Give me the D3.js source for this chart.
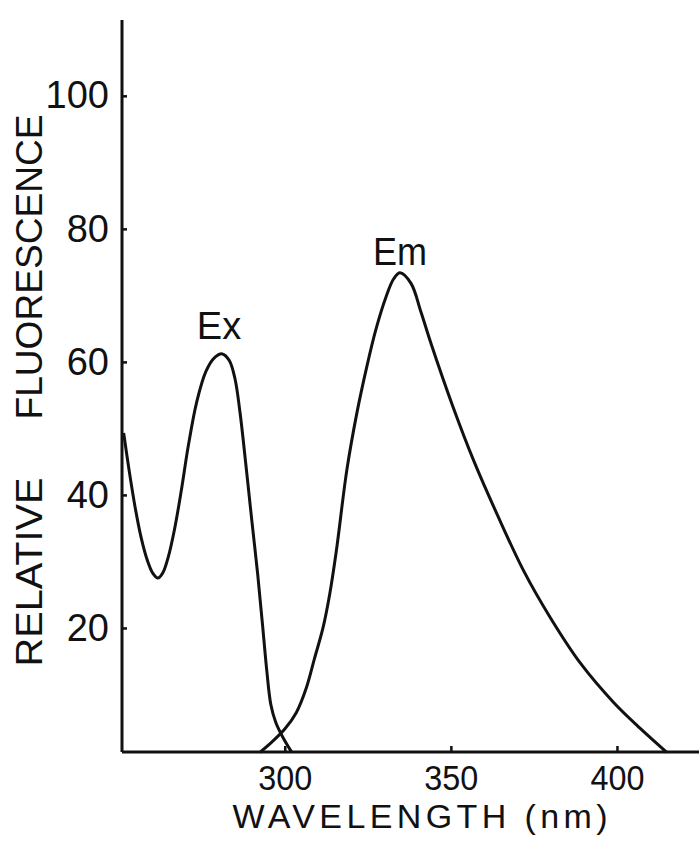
<!DOCTYPE html>
<html>
<head>
<meta charset="utf-8">
<script src="https://cdn.jsdelivr.net/npm/d3@7"></script>
<style>
    body { margin: 0; background: #fff; }
    text { font-family: "Liberation Sans", Arial, sans-serif; fill: #111; }
</style>
</head>
<body>
<div id="chart"></div>
<script>
// excitation spectrum
var exWavelength = [251.5, 253.2, 255.0, 256.8, 258.6, 260.3, 261.8, 263.3, 265.0, 266.8, 268.8, 271.0, 273.5, 276.3, 278.8, 281.2, 283.3, 285.0, 286.5, 288.3, 290.0, 291.8, 293.3, 294.6, 295.8, 297.3, 299.5, 302.0];
var exValue      = [49.3, 43.5, 38.0, 33.5, 30.2, 28.2, 27.5, 28.3, 30.8, 34.8, 40.5, 47.5, 54.0, 58.6, 60.6, 61.2, 60.2, 57.5, 52.5, 44.5, 36.5, 28.3, 20.5, 13.5, 8.5, 5.8, 3.5, 1.4];

// emission spectrum
var emWavelength = [292.5, 296.0, 300.0, 303.5, 306.5, 309.0, 311.5, 313.5, 315.5, 318.7, 321.7, 324.7, 327.5, 330.5, 332.8, 334.7, 338.0, 341.0, 344.0, 350.6, 357.0, 364.0, 372.0, 380.0, 389.0, 399.0, 407.0, 415.0];
var emValue      = [1.3, 2.8, 4.8, 7.3, 11.0, 15.5, 20.0, 25.0, 31.5, 43.8, 52.3, 59.3, 65.0, 69.8, 72.5, 73.4, 71.8, 67.5, 62.8, 53.3, 45.0, 37.0, 28.5, 21.5, 14.7, 8.8, 4.9, 1.3];

var xTicks = [300, 350, 400];
var yTicks = [20, 40, 60, 80, 100];

function draw() {
    const W = 699, H = 844;

    const svg = d3.select("#chart")
        .append("svg")
        .attr("width", W)
        .attr("height", H);

        // scales (axis corner sits a little above zero like the original)
    const x = d3.scaleLinear().domain([251, 425]).range([122, 700]);
    const y = d3.scaleLinear().domain([1.35, 111.4]).range([752, 20]);

        // axis lines
    svg.append("line")
        .attr("x1", x(251)).attr("x2", x(251))
        .attr("y1", y(1.35)).attr("y2", y(111.4))
        .attr("stroke", "#111").attr("stroke-width", 3);
    svg.append("line")
        .attr("x1", x(251)).attr("x2", x(425))
        .attr("y1", y(1.35)).attr("y2", y(1.35))
        .attr("stroke", "#111").attr("stroke-width", 3);

        // y ticks point into the plot
    const yAxis = svg.append("g")
        .attr("transform", `translate(${x(251)},0)`)
        .call(d3.axisLeft(y).tickValues(yTicks).tickSize(-5).tickPadding(13));
    yAxis.select(".domain").remove();
    yAxis.selectAll("line").attr("stroke", "#111").attr("stroke-width", 2.5);
    yAxis.selectAll("text")
        .attr("font-size", 38)
        .attr("font-family", "Liberation Sans, Arial, sans-serif")
        .attr("fill", "#111");

    const xAxis = svg.append("g")
        .attr("transform", `translate(0,${y(1.35)})`)
        .call(d3.axisBottom(x).tickValues(xTicks).tickSize(-6).tickPadding(13));
    xAxis.select(".domain").remove();
    xAxis.selectAll("line").attr("stroke", "#111").attr("stroke-width", 2.5);
    xAxis.selectAll("text")
        .attr("font-size", 35)
        .attr("font-family", "Liberation Sans, Arial, sans-serif")
        .attr("fill", "#111")
        .attr("textLength", 54)
        .attr("lengthAdjust", "spacingAndGlyphs");

        // curves
    const line = d3.line()
        .x(d => x(d[0]))
        .y(d => y(d[1]))
        .curve(d3.curveCatmullRom.alpha(0.5));

    const exData = d3.zip(exWavelength, exValue);
    const emData = d3.zip(emWavelength, emValue);

    svg.append("path")
        .datum(exData)
        .attr("d", line)
        .attr("fill", "none")
        .attr("stroke", "#111")
        .attr("stroke-width", 3);

    svg.append("path")
        .datum(emData)
        .attr("d", line)
        .attr("fill", "none")
        .attr("stroke", "#111")
        .attr("stroke-width", 3);

        // curve names
    svg.append("text")
        .attr("x", 219).attr("y", 339)
        .attr("text-anchor", "middle")
        .attr("font-size", 38)
        .text("Ex");
    svg.append("text")
        .attr("x", 400).attr("y", 265)
        .attr("text-anchor", "middle")
        .attr("font-size", 38)
        .attr("textLength", 54)
        .attr("lengthAdjust", "spacingAndGlyphs")
        .text("Em");

        // axis titles
    svg.append("text")
        .attr("x", 420).attr("y", 828)
        .attr("text-anchor", "middle")
        .attr("font-size", 34)
        .attr("textLength", 375)
        .attr("lengthAdjust", "spacing")
        .text("WAVELENGTH (nm)");

    svg.append("text")
        .attr("transform", "translate(42,572) rotate(-90)")
        .attr("text-anchor", "middle")
        .attr("font-size", 37)
        .attr("textLength", 189)
        .attr("lengthAdjust", "spacingAndGlyphs")
        .text("RELATIVE");
    svg.append("text")
        .attr("transform", "translate(42,267) rotate(-90)")
        .attr("text-anchor", "middle")
        .attr("font-size", 37)
        .attr("textLength", 305)
        .attr("lengthAdjust", "spacingAndGlyphs")
        .text("FLUORESCENCE");
}

window.onload = draw;
</script>
</body>
</html>
